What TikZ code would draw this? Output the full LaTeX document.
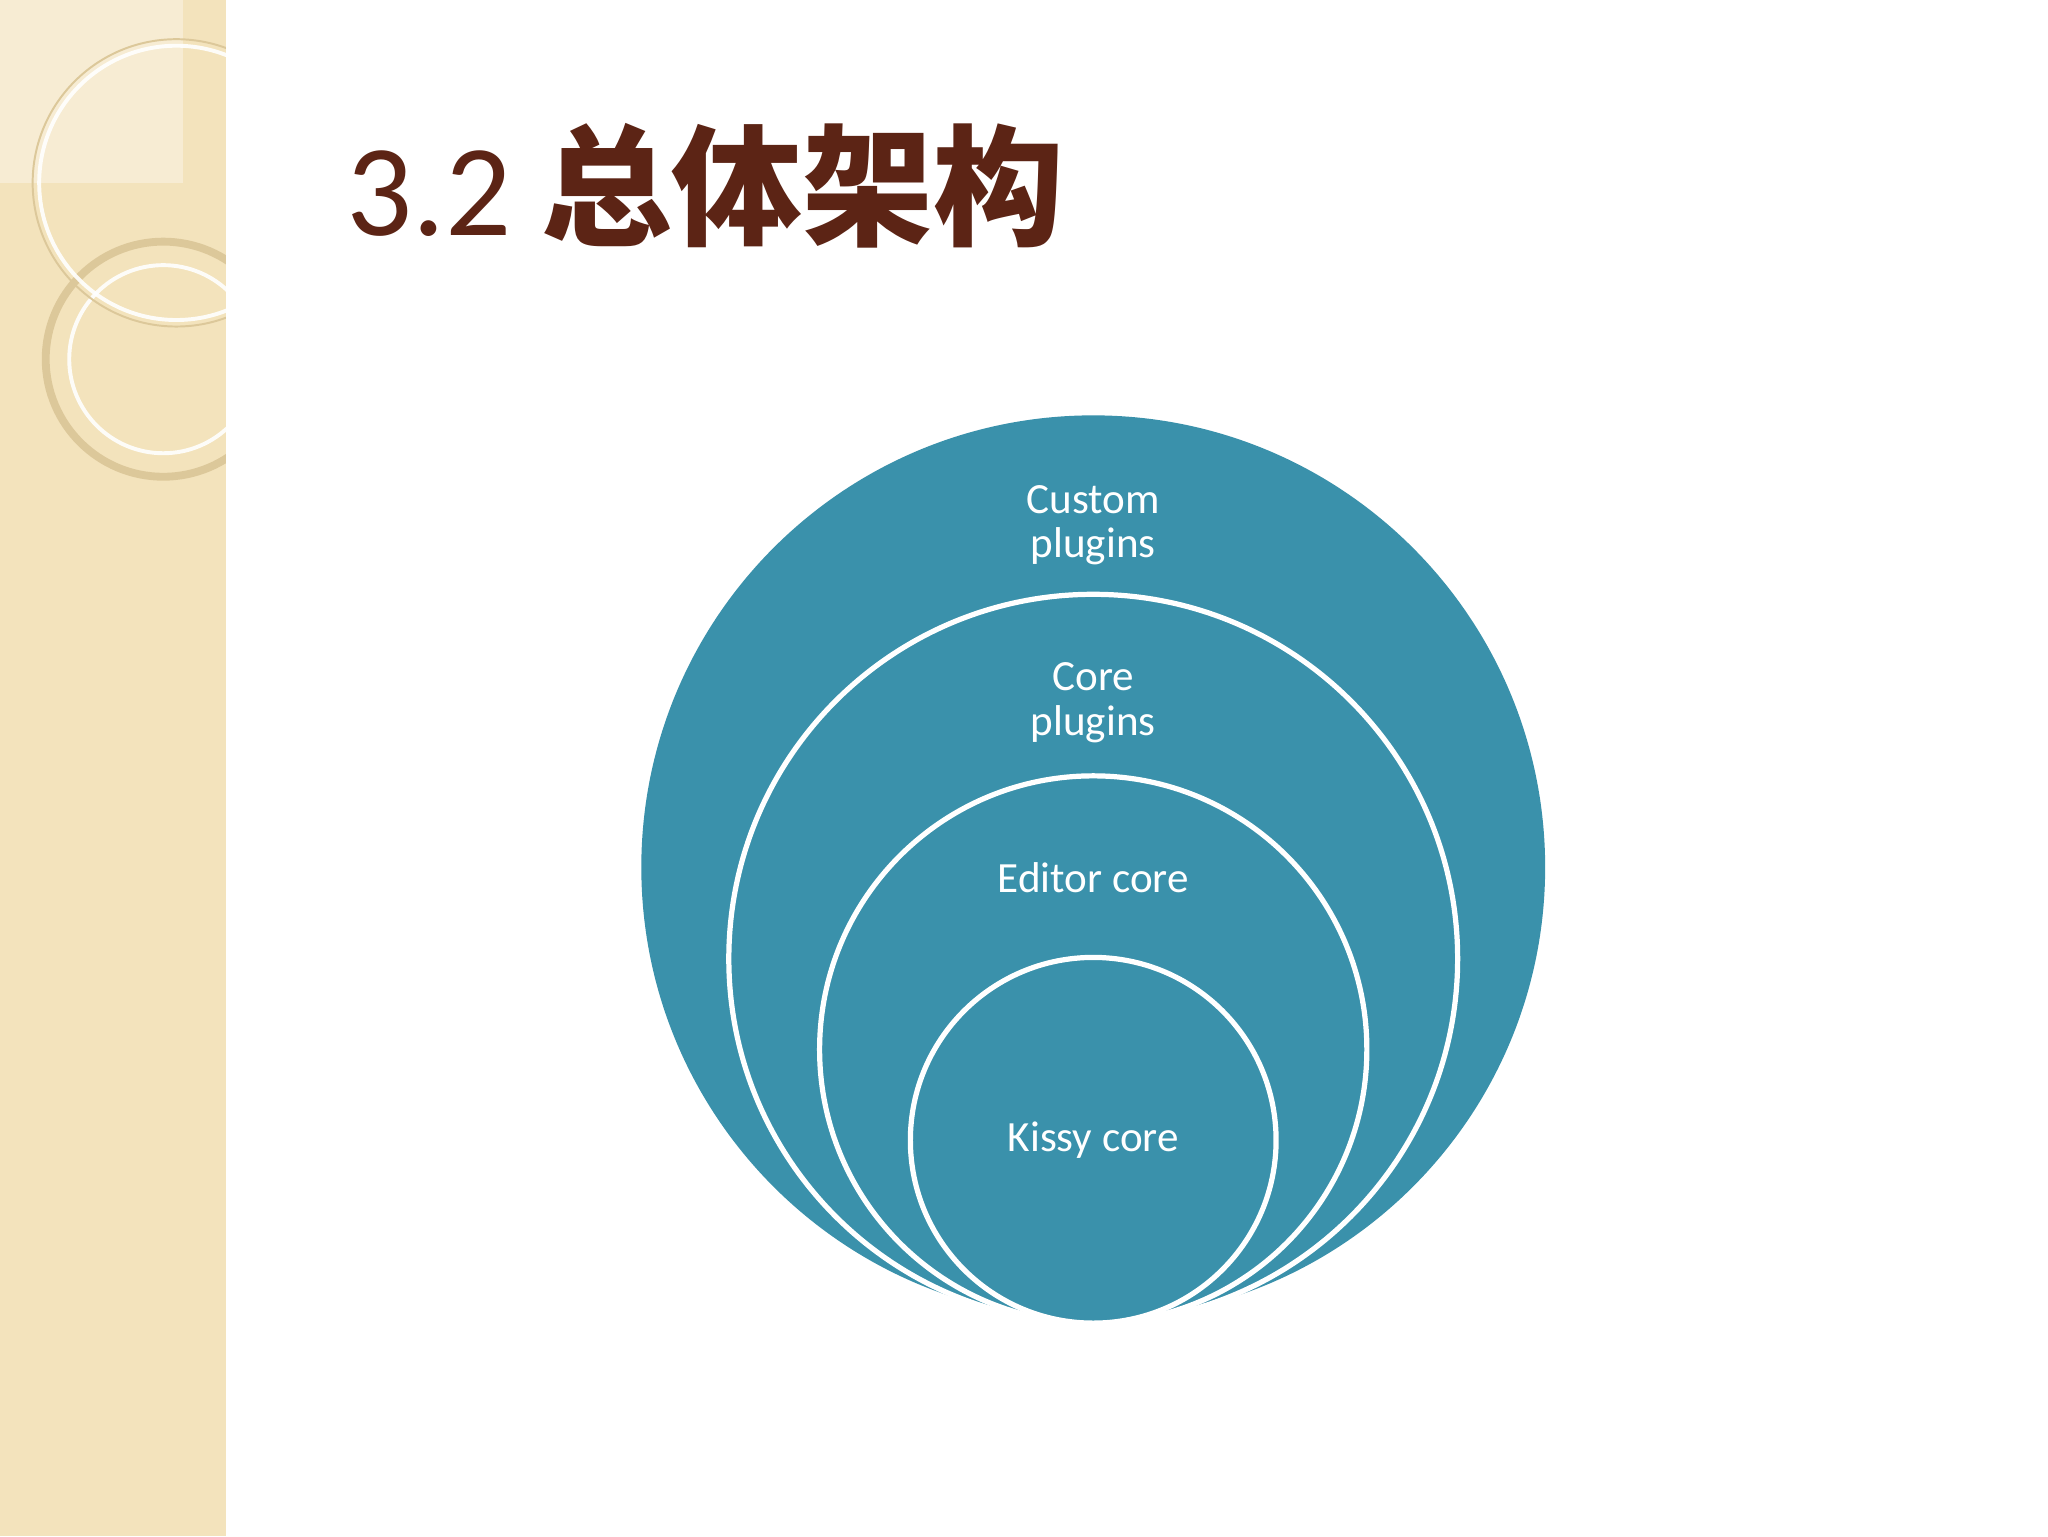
\documentclass[tikz,border=0pt]{standalone}
\usepackage{fontspec}
\setmainfont{Carlito}
\newfontfamily\cjk{Noto Sans CJK SC}
\definecolor{teal1}{HTML}{3A91AB}
\definecolor{beige}{HTML}{F3E3BC}
\definecolor{ringc}{HTML}{DCC89A}
\definecolor{titlec}{HTML}{5C2415}
\begin{document}
\begin{tikzpicture}[x=1pt,y=-1pt,
  ring/.style={draw=white,line width=4pt,fill=teal1},
  lbl/.style={text=white,font=\fontsize{33}{34}\selectfont,align=center}]
\useasboundingbox (0,0) rectangle (1568,1176);
\fill[white] (0,0) rectangle (1568,1176);
\fill[beige] (0,0) rectangle (173,1176);
\begin{scope}
\clip (0,0) rectangle (173,1176);
\fill[white,opacity=0.35] (0,0) rectangle (140,140);
\draw[ringc,line width=6pt] (125,275) circle (90);
\draw[white,line width=3pt,opacity=0.9] (125,275) circle (72);
\draw[white,line width=3pt,opacity=0.9] (135,140) circle (105);
\draw[ringc,line width=1.5pt] (135,140) circle (110);
\end{scope}
\node[anchor=base west,text=titlec,font=\fontsize{100}{104}\selectfont,inner sep=0] (title) at (265,180) {3.2 {\cjk\bfseries 总体架构}};
\node[ring,circle,minimum size=692,inner sep=0,draw=none] (c1) at (837,664) {};
\node[ring,circle,minimum size=558,inner sep=0] (c2) at (837,734) {};
\node[ring,circle,minimum size=419,inner sep=0] (c3) at (837,803.5) {};
\node[ring,circle,minimum size=280,inner sep=0] (c4) at (837,873) {};
\node[lbl] (l1) at (837,402) {Custom\\plugins};
\node[lbl] (l2) at (837,538) {Core\\plugins};
\node[lbl] (l3) at (837,672) {Editor core};
\node[lbl] (l4) at (837,873) {Kissy core};
\end{tikzpicture}
\end{document}
